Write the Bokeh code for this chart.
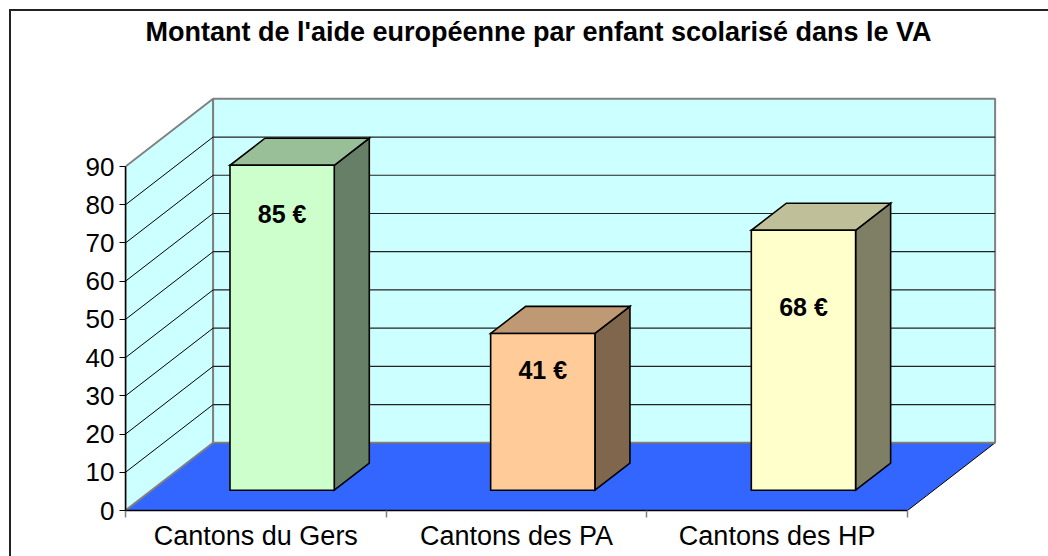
from bokeh.plotting import figure
from bokeh.models import Range1d, FixedTicker, ColumnDataSource
from bokeh.core.properties import value
from bokeh.embed import file_html
from bokeh.resources import INLINE

# ---------------- data ----------------
title_text = "Montant de l'aide européenne  par enfant scolarisé dans le VA"
categories = ["Cantons du Gers", "Cantons des PA", "Cantons des HP"]
amounts = [85, 41, 68]
bar_labels = ["85 €", "41 €", "68 €"]
label_drop = [12.7, 9.5, 20.2]   # how far below the bar top each label sits (value units)
y_ticks = [0, 10, 20, 30, 40, 50, 60, 70, 80, 90]

front_colors = ["#CCFFCC", "#FFCC99", "#FFFFCC"]
top_colors = ["#99BF99", "#BF9973", "#BFBF99"]
side_colors = ["#667F66", "#7F664C", "#7F7F66"]

# ---------------- geometry / style ----------------
PX_PER_CAT = 260.67
PX_PER_VAL = 3.822
DX = 87.6 / PX_PER_CAT      # depth offset in category units
DY = 67.7 / PX_PER_VAL      # depth offset in value units
BAR_FRONT, BAR_BACK = 0.3, 0.7
BAR_LEFT, BAR_RIGHT = 0.3, 0.7

W, H = 1048, 556
ML, MR, MT, MB = 125, 8, 51, 46
fw, fh = W - ML - MR, H - MT - MB

p = figure(width=W, height=H, output_backend="svg", toolbar_location=None,
           x_range=Range1d(0, fw / PX_PER_CAT), y_range=Range1d(0, fh / PX_PER_VAL),
           min_border_left=ML, min_border_right=MR, min_border_top=MT, min_border_bottom=MB,
           title=title_text)
p.outline_line_color = None
p.border_fill_color = None
p.background_fill_color = "white"
p.xgrid.visible = False
p.ygrid.visible = False
p.styles = {
    "box-shadow": "inset 9px 9px 0 0 white, inset 11px 11px 0 0 #222222",
    "background": "linear-gradient(#222222, #222222) 0px 111px / 10px 2px no-repeat",
}

p.title.text_font = "Liberation Sans"
p.title.text_font_style = "bold"
p.title.text_font_size = "27px"
p.title.text_color = "black"
p.title.align = "left"
p.title.offset = 20

n = len(categories)
ymax = y_ticks[-1]

# floor
p.patch([0, n, n + DX, DX], [0, 0, DY, DY], fill_color="#3366FF", line_color="#000000", line_width=1)
# left wall
p.patch([0, 0, DX, DX], [0, ymax, ymax + DY, DY], fill_color="#CCFFFF", line_color="#808080", line_width=2)
# back wall
p.patch([DX, DX, n + DX, n + DX], [DY, ymax + DY, ymax + DY, DY], fill_color="#CCFFFF",
        line_color="#808080", line_width=2)

# gridlines
inner = [t for t in y_ticks if 0 < t < ymax]
p.segment(x0=[0] * len(inner), y0=inner, x1=[DX] * len(inner), y1=[t + DY for t in inner],
          line_color="#000000", line_width=1)
p.segment(x0=[DX] * len(inner), y0=[t + DY for t in inner], x1=[n + DX] * len(inner),
          y1=[t + DY for t in inner], line_color="#222222", line_width=1.2)

# bars
fx, fy = BAR_FRONT * DX, BAR_FRONT * DY
bx, by = (BAR_BACK - BAR_FRONT) * DX, (BAR_BACK - BAR_FRONT) * DY
front_xs, front_ys, top_xs, top_ys, side_xs, side_ys = [], [], [], [], [], []
for i, v in enumerate(amounts):
    x0, x1 = i + BAR_LEFT + fx, i + BAR_RIGHT + fx
    y0, y1 = fy, fy + v
    front_xs.append([x0, x1, x1, x0]); front_ys.append([y0, y0, y1, y1])
    top_xs.append([x0, x1, x1 + bx, x0 + bx]); top_ys.append([y1, y1, y1 + by, y1 + by])
    side_xs.append([x1, x1 + bx, x1 + bx, x1]); side_ys.append([y0, y0 + by, y1 + by, y1])

p.patches(side_xs, side_ys, fill_color=side_colors, line_color="black", line_width=1.6, line_join="miter")
p.patches(top_xs, top_ys, fill_color=top_colors, line_color="black", line_width=1.6, line_join="miter")
p.patches(front_xs, front_ys, fill_color=front_colors, line_color="black", line_width=1.6, line_join="miter")

lab = ColumnDataSource(dict(
    x=[i + 0.5 + fx for i in range(n)],
    y=[fy + v - d for v, d in zip(amounts, label_drop)],
    t=bar_labels))
p.text(x="x", y="y", text="t", source=lab, text_align="center", text_baseline="middle",
       text_font=value("Liberation Sans"), text_font_style="bold", text_font_size="25px",
       text_color="black")

# axes
p.yaxis.ticker = FixedTicker(ticks=y_ticks, minor_ticks=[])
p.yaxis.bounds = (0, ymax)
p.yaxis.axis_line_color = "black"
p.yaxis.axis_line_width = 1.5
p.yaxis.major_tick_out = 6
p.yaxis.major_tick_in = 0
p.yaxis.major_tick_line_color = "black"
p.yaxis.minor_tick_line_color = None
p.yaxis.major_label_standoff = 5
p.yaxis.major_label_text_font = "Liberation Sans"
p.yaxis.major_label_text_font_size = "26px"
p.yaxis.major_label_text_color = "black"

centers = [i + 0.5 for i in range(n)]
p.xaxis.ticker = FixedTicker(ticks=centers, minor_ticks=list(range(n + 1)))
p.xaxis.major_label_overrides = {c: name for c, name in zip(centers, categories)}
p.xaxis.bounds = (0, n)
p.xaxis.axis_line_color = "black"
p.xaxis.axis_line_width = 1.5
p.xaxis.major_tick_out = 0
p.xaxis.major_tick_in = 0
p.xaxis.minor_tick_out = 7
p.xaxis.minor_tick_in = 0
p.xaxis.minor_tick_line_color = "#808080"
p.xaxis.minor_tick_line_width = 1.5
p.xaxis.major_label_standoff = 3
p.xaxis.major_label_text_font = "Liberation Sans"
p.xaxis.major_label_text_font_size = "27px"
p.xaxis.major_label_text_color = "black"

open("out.html", "w").write(file_html(p, INLINE))
